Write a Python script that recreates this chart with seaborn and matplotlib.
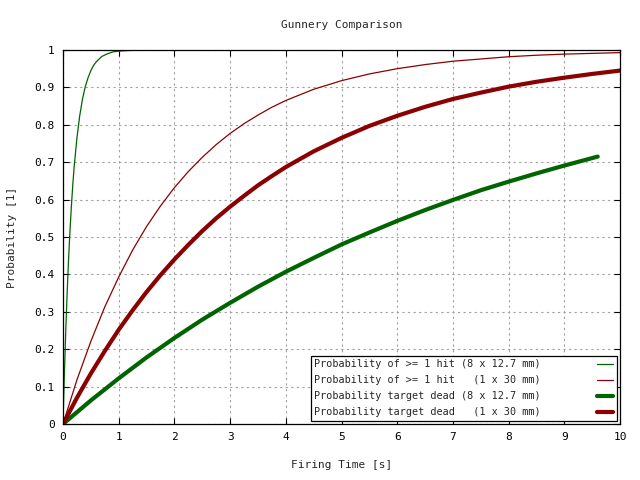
import numpy as np
import matplotlib
matplotlib.use("Agg")
import matplotlib.pyplot as plt
import seaborn as sns

# firing time [s]
t_fast = [0, 0.0125, 0.025, 0.05, 0.075, 0.1, 0.125, 0.15, 0.175, 0.2, 0.25,
          0.3, 0.35, 0.4, 0.45, 0.5, 0.55, 0.6, 0.7, 0.8, 0.9, 1.0, 1.1, 1.25]
t_cannon = [0, 0.25, 0.5, 0.75, 1, 1.25, 1.5, 1.75, 2, 2.25, 2.5, 2.75, 3,
            3.25, 3.5, 3.75, 4, 4.5, 5, 5.5, 6, 6.5, 7, 7.5, 8, 8.5, 9, 9.5, 10]
t_dead_mg = [0, 0.5, 1, 1.5, 2, 2.5, 3, 3.5, 4, 4.5, 5, 5.5, 6, 6.5, 7, 7.5,
             8, 8.5, 9, 9.6]

# probabilities
hit_mg = [0, 0.070, 0.135, 0.252, 0.353, 0.440, 0.516, 0.581, 0.638, 0.687,
          0.765, 0.824, 0.869, 0.902, 0.926, 0.945, 0.959, 0.969, 0.983,
          0.990, 0.995, 0.997, 0.998, 0.999]
hit_cannon = [0, 0.118, 0.221, 0.313, 0.393, 0.465, 0.528, 0.583, 0.632,
              0.675, 0.713, 0.747, 0.777, 0.803, 0.826, 0.847, 0.865, 0.895,
              0.918, 0.936, 0.950, 0.961, 0.970, 0.976, 0.982, 0.986, 0.989,
              0.991, 0.993]
dead_mg = [0, 0.063, 0.122, 0.178, 0.230, 0.279, 0.324, 0.367, 0.407, 0.444,
           0.480, 0.512, 0.543, 0.572, 0.599, 0.625, 0.648, 0.670, 0.691,
           0.715]
dead_cannon = [0, 0.070, 0.135, 0.195, 0.252, 0.304, 0.353, 0.398, 0.440,
               0.479, 0.516, 0.550, 0.581, 0.610, 0.638, 0.663, 0.687, 0.729,
               0.765, 0.797, 0.824, 0.848, 0.869, 0.886, 0.902, 0.915, 0.926,
               0.936, 0.945]

labels = ["Probability of >= 1 hit (8 x 12.7 mm)",
          "Probability of >= 1 hit   (1 x 30 mm)",
          "Probability target dead (8 x 12.7 mm)",
          "Probability target dead   (1 x 30 mm)"]

sns.set_style("ticks")
plt.rcParams['font.family'] = ['DejaVu Sans Mono']
plt.rcParams['font.size'] = 8

fig = plt.figure(figsize=(6.4, 4.8), dpi=100)
ax = fig.add_axes([63 / 640, 1 - 424 / 480, 557 / 640, 374 / 480])

green = "#006400"
red = "#8b0000"
sns.lineplot(x=t_fast, y=hit_mg, ax=ax, color=green, linewidth=0.9, label=labels[0])
sns.lineplot(x=t_cannon, y=hit_cannon, ax=ax, color=red, linewidth=0.9, label=labels[1])
sns.lineplot(x=t_dead_mg, y=dead_mg, ax=ax, color=green, linewidth=3.0, label=labels[2])
sns.lineplot(x=t_cannon, y=dead_cannon, ax=ax, color=red, linewidth=3.0, label=labels[3])

ax.set_xlim(0, 10)
ax.set_ylim(0, 1)
ax.set_xticks(np.arange(0, 11, 1))
ax.set_yticks(np.round(np.arange(0, 1.01, 0.1), 1))
ax.set_yticklabels(["0"] + [f"{v:.1f}" for v in np.arange(0.1, 0.95, 0.1)] + ["1"])
ax.tick_params(direction="in", length=4, width=0.8, top=True, right=True,
               labelsize=8, pad=6, colors="black")
for s in ax.spines.values():
    s.set_visible(True)
    s.set_linewidth(0.9)
    s.set_color("black")
ax.grid(True, color="#a0a0a0", linestyle=(0, (2, 3)), linewidth=0.8)
ax.set_axisbelow(True)

ax.set_title("Gunnery Comparison", fontsize=8, pad=16)
ax.set_xlabel("Firing Time [s]", fontsize=8, labelpad=13)
ax.set_ylabel("Probability [1]", fontsize=8, labelpad=12.5)

leg = ax.legend(loc="lower right", bbox_to_anchor=(0.994, 0.008),
                borderaxespad=0, markerfirst=False, fancybox=False,
                edgecolor="black", framealpha=1, fontsize=7.3,
                handlelength=1.6, handletextpad=5.5, labelspacing=0.6,
                borderpad=0.35)
leg.get_frame().set_linewidth(0.9)

fig.savefig("out.png", dpi=100)
